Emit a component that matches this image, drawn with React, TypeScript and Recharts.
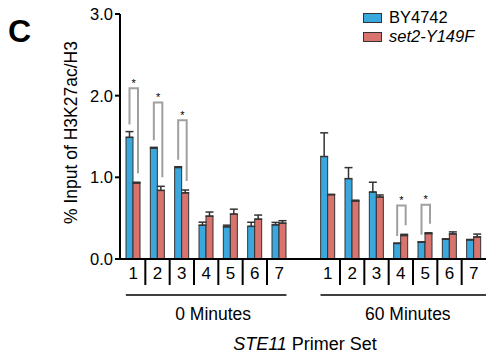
import React from "react";
import { BarChart, Bar, XAxis, YAxis, ErrorBar, Legend } from "recharts";

// STE11 primer sets, two time points
const primers = ["1", "2", "3", "4", "5", "6", "7"];
const timePoints = ["0 Minutes", "60 Minutes"];

const wt0 = [1.49, 1.357, 1.12, 0.414, 0.394, 0.4, 0.418];
const wt0Err = [0.07, 0.01, 0.01, 0.037, 0.02, 0.05, 0.03];
const mut0 = [0.93, 0.84, 0.81, 0.525, 0.55, 0.488, 0.439];
const mut0Err = [0.01, 0.05, 0.035, 0.05, 0.06, 0.05, 0.03];

const wt60 = [1.255, 0.984, 0.82, 0.19, 0.205, 0.242, 0.234];
const wt60Err = [0.29, 0.135, 0.12, 0.005, 0.005, 0.005, 0.005];
const mut60 = [0.787, 0.71, 0.759, 0.287, 0.311, 0.307, 0.27];
const mut60Err = [0.005, 0.01, 0.025, 0.015, 0.01, 0.025, 0.035];

// height of the significance bracket (null = no bracket)
const sig0 = [2.09, 1.915, 1.7, null, null, null, null];
const sig60 = [null, null, null, 0.656, 0.664, null, null];

const BLUE = "#3aa8dc";
const RED = "#d9736e";
const FONT = "'Liberation Sans', Arial, sans-serif";

type Row = {
  key: string;
  label: string;
  wt: number | null;
  mut: number | null;
  wtErr: number[] | null;
  mutErr: number[] | null;
  sig: number | null;
};

const makeRows = (g: number, wt: number[], wtE: number[], mut: number[], mutE: number[], sig: (number | null)[]): Row[] =>
  primers.map((p, i) => ({
    key: `${g}-${p}`,
    label: p,
    wt: wt[i],
    mut: mut[i],
    wtErr: [0, wtE[i]],
    mutErr: [0, mutE[i]],
    sig: sig[i],
  }));

const data: Row[] = [
  ...makeRows(0, wt0, wt0Err, mut0, mut0Err, sig0),
  { key: "gap", label: "", wt: null, mut: null, wtErr: null, mutErr: null, sig: null },
  ...makeRows(1, wt60, wt60Err, mut60, mut60Err, sig60),
];

// red bar + the bracket spanning it and its blue neighbour
const MutShape = (props: any) => {
  const { x, y, width, height, payload } = props;
  const rect = (
    <rect x={x} y={y} width={width} height={height} fill={RED} stroke="#333" strokeWidth={1} />
  );
  if (payload.sig == null || !payload.mut) return rect;
  const ppu = height / payload.mut;
  const base = y + height;
  const wtTop = base - (payload.wt + payload.wtErr[1]) * ppu;
  const mutTop = y - payload.mutErr[1] * ppu;
  const top = base - payload.sig * ppu;
  const lx = x - width / 2;
  const rx = x + width / 2 + 1.5;
  return (
    <g>
      {rect}
      <path
        d={`M${lx},${wtTop - 7} L${lx},${top} L${rx},${top} L${rx},${mutTop - 9}`}
        fill="none"
        stroke="#a0a0a0"
        strokeWidth={2}
      />
      <text x={(lx + rx) / 2} y={top - 1.5} textAnchor="middle" fontSize={11} fontFamily={FONT} fill="#000">
        *
      </text>
    </g>
  );
};

const XTick = (props: any) => {
  const { x, y, payload } = props;
  const i = payload.index;
  const half = payload.offset || 12.15;
  const bw = half * 2;
  const row = data[i];
  const inGroup = i !== 7;
  const lastInGroup = i === 6 || i === 14;
  return (
    <g fontFamily={FONT}>
      {row && row.label && (
        <text x={x} y={y + 20} textAnchor="middle" fontSize={17} fill="#000">
          {row.label}
        </text>
      )}
      {inGroup && !lastInGroup && (
        <line x1={x + half} x2={x + half} y1={y + 1} y2={y + 26} stroke="#000" strokeWidth={2} />
      )}
      {(i === 3 || i === 11) && (
        <g>
          <line
            x1={x - 3.3 * bw}
            x2={x + (i === 3 ? 3.3 : 3.6) * bw}
            y1={y + 36}
            y2={y + 36}
            stroke="#000"
            strokeWidth={1.5}
          />
          <text x={x + 7} y={y + 61} textAnchor="middle" fontSize={17.5} fill="#000">
            {timePoints[i === 3 ? 0 : 1]}
          </text>
        </g>
      )}
      {i === 7 && (
        <text x={x + 1.5} y={y + 91} textAnchor="middle" fontSize={18} fill="#000">
          <tspan fontStyle="italic">STE11</tspan> Primer Set
        </text>
      )}
    </g>
  );
};

const YLabel = (props: any) => {
  const { viewBox } = props;
  const cy = viewBox ? viewBox.y + viewBox.height / 2 - 4 : 132.5;
  return (
    <text
      x={77}
      y={cy}
      transform={`rotate(-90 77 ${cy})`}
      textAnchor="middle"
      fontSize={17.5}
      fontFamily={FONT}
      fill="#000"
    >
      % Input of H3K27ac/H3
    </text>
  );
};

const LegendBox = () => (
  <div style={{ fontFamily: FONT, fontSize: 16.5, color: "#000" }}>
    {[
      { name: "BY4742", color: BLUE, italic: false },
      { name: "set2-Y149F", color: RED, italic: true },
    ].map((s) => (
      <div key={s.name} style={{ display: "flex", alignItems: "center", height: 19 }}>
        <div
          style={{
            width: 17,
            height: 8,
            background: s.color,
            border: "1px solid #333",
            marginRight: 7,
            flex: "none",
          }}
        />
        <div style={{ lineHeight: "19px", fontStyle: s.italic ? "italic" : "normal" }}>{s.name}</div>
      </div>
    ))}
  </div>
);

export default function App() {
  return (
    <div style={{ position: "absolute", left: 0, top: 0, fontFamily: FONT }}>
      <BarChart
        width={486}
        height={358}
        data={data}
        margin={{ top: 14, right: 0, left: 0, bottom: 0 }}
        barSize={7}
        barGap={0}
      >
        <text x={8} y={41.5} fontSize={32} fontWeight="bold" fontFamily={FONT} fill="#000">
          C
        </text>
        <YAxis
          width={120}
          domain={[0, 3]}
          ticks={[0, 1, 2, 3]}
          tickFormatter={(v: number) => v.toFixed(1)}
          tick={{ fontSize: 16.5, fill: "#000", fontFamily: FONT }}
          tickSize={5}
          tickMargin={2}
          axisLine={{ stroke: "#000", strokeWidth: 2 }}
          tickLine={{ stroke: "#000", strokeWidth: 2 }}
          label={<YLabel />}
        />
        <XAxis
          dataKey="key"
          height={99}
          interval={0}
          tick={<XTick />}
          tickLine={false}
          tickSize={0}
          tickMargin={0}
          padding={{ left: 1, right: 0 }}
          axisLine={{ stroke: "#000", strokeWidth: 2 }}
        />
        <Legend
          layout="vertical"
          align="center"
          verticalAlign="middle"
          content={<LegendBox />}
          wrapperStyle={{ position: "absolute", left: 363, top: 8, width: 123 }}
        />
        <Bar dataKey="wt" name="BY4742" fill={BLUE} stroke="#333" strokeWidth={1} isAnimationActive={false}>
          <ErrorBar dataKey="wtErr" width={4} stroke="#333" strokeWidth={1.5} direction="y" />
        </Bar>
        <Bar dataKey="mut" name="set2-Y149F" fill={RED} shape={<MutShape />} isAnimationActive={false}>
          <ErrorBar dataKey="mutErr" width={4} stroke="#333" strokeWidth={1.5} direction="y" />
        </Bar>
      </BarChart>
    </div>
  );
}
